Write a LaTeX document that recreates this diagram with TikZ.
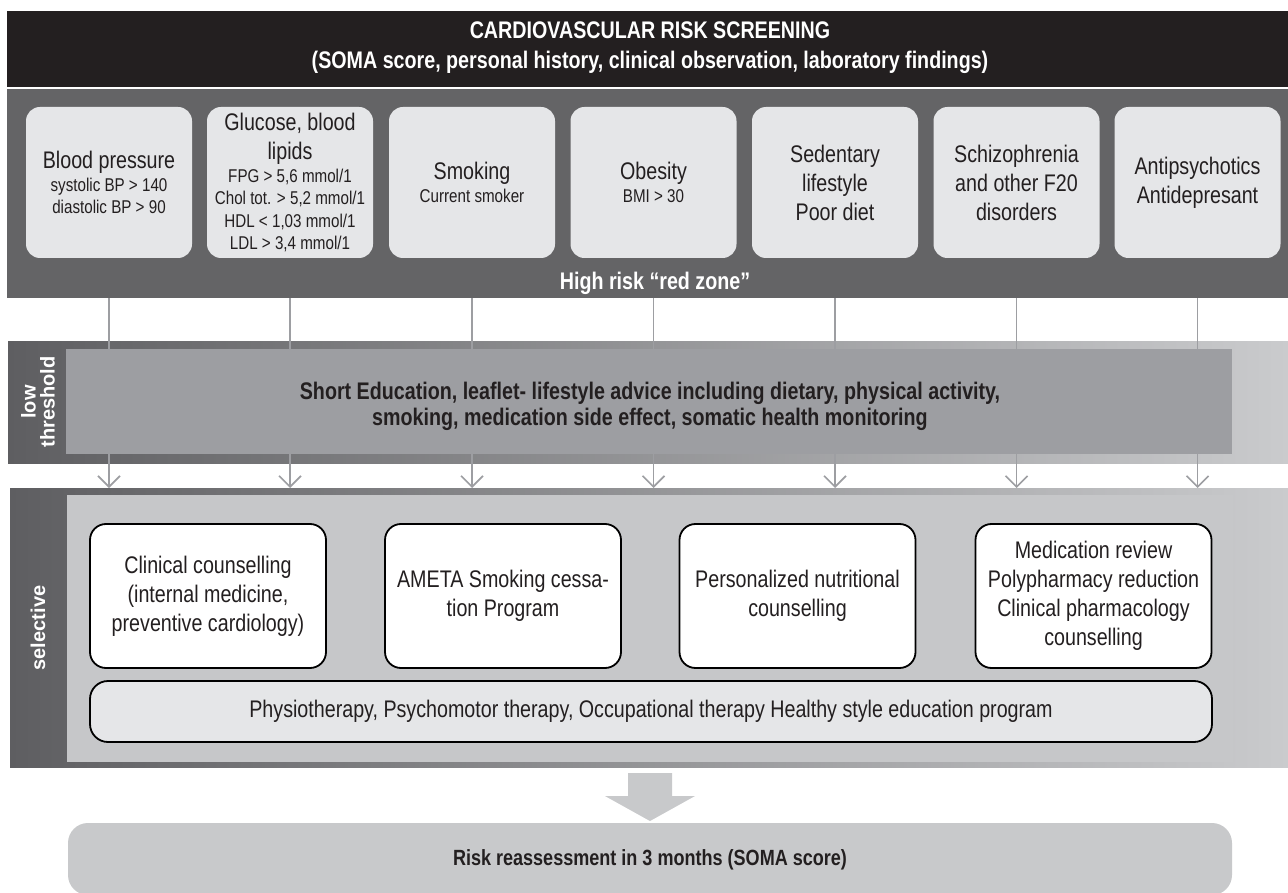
\documentclass[tikz,border=0pt]{standalone}
\usepackage{fontspec}
\setmainfont{Liberation Sans}[FakeStretch=0.82]
\newfontfamily\widefont{Liberation Sans}
\usetikzlibrary{arrows.meta}
\definecolor{hdr}{HTML}{231F20}
\definecolor{riskband}{HTML}{646466}
\definecolor{boxf}{HTML}{E5E6E8}
\definecolor{txt}{HTML}{231F20}
\definecolor{lowin}{HTML}{9D9EA2}
\definecolor{selin}{HTML}{C6C7C9}
\definecolor{shadeL}{HTML}{5E5E61}
\definecolor{shadeR}{HTML}{CACBCD}
\definecolor{arrc}{HTML}{9D9EA2}
\definecolor{bigarr}{HTML}{C8C9CB}
\begin{document}
\begin{tikzpicture}[x=1pt,y=-1pt,
  topbox/.style={fill=boxf, rounded corners=14pt, minimum width=166pt, minimum height=151pt,
    inner sep=0pt, align=center, text=txt, font=\fontsize{18.5}{22.5}\selectfont},
  selbox/.style={fill=white, draw=black, line width=1.8pt, rounded corners=16pt,
    minimum width=236pt, minimum height=144pt, inner sep=0pt, align=center, text=txt,
    font=\fontsize{24}{29}\selectfont},
  plain/.style={inner sep=0pt, outer sep=0pt, anchor=north west},
  sidelabel/.style={rotate=90, text=white, align=center, inner sep=0pt,
    font=\widefont\bfseries\fontsize{20}{19}\selectfont},
  flow/.style={draw=arrc, line width=1.6pt, -{Straight Barb[length=11pt,width=22pt]}}
]
\useasboundingbox (0,0) rectangle (1288,893);
\fill[white] (0,0) rectangle (1288,893);

% header
\node[plain, fill=hdr, minimum width=1281pt, minimum height=76pt] (hdr) at (7,11) {};
\node[text=white, align=center, font=\bfseries\fontsize{24}{30}\selectfont] (title) at (650,48)
  {CARDIOVASCULAR RISK SCREENING\\(SOMA score, personal history, clinical observation, laboratory findings)};

% risk band
\node[plain, fill=riskband, minimum width=1281pt, minimum height=209pt] (risk) at (7,89) {};
\node[topbox] (b1) at (109,182.5) {{\fontsize{24}{29}\selectfont Blood pressure}\\systolic BP > 140\\diastolic BP > 90};
\node[topbox] (b2) at (290,182.5) {{\fontsize{24}{29}\selectfont Glucose, blood}\\[7pt]{\fontsize{24}{29}\selectfont lipids}\\FPG > 5,6 mmol/1\\Chol tot. > 5,2 mmol/1\\HDL < 1,03 mmol/1\\LDL > 3,4 mmol/1};
\node[topbox] (b3) at (472,182.5) {{\fontsize{24}{29}\selectfont Smoking}\\Current smoker};
\node[topbox] (b4) at (653.5,182.5) {{\fontsize{24}{29}\selectfont Obesity}\\BMI > 30};
\node[topbox, font=\fontsize{24}{29}\selectfont] (b5) at (835,182.5) {Sedentary\\lifestyle\\Poor diet};
\node[topbox, font=\fontsize{24}{29}\selectfont] (b6) at (1016.5,182.5) {Schizophrenia\\and other F20\\disorders};
\node[topbox, font=\fontsize{24}{29}\selectfont] (b7) at (1197.5,182.5) {Antipsychotics\\Antidepresant};
\node[text=white, font=\bfseries\fontsize{24}{29}\selectfont] (red) at (655,283) {High risk “red zone”};

% low threshold band (outer)
\node[plain, shading=axis, left color=shadeL, right color=shadeR, minimum width=1280pt, minimum height=121pt] (low) at (8,342) {};
% selective band (outer)
\node[plain, shading=axis, left color=shadeL, right color=shadeR, minimum width=1278pt, minimum height=279pt] (sel) at (10,488) {};
\node[plain, fill=selin, minimum width=1166pt, minimum height=267pt] (selinner) at (67,495) {};

% connectors
\foreach \b in {b1,b2,b3,b4,b5,b6,b7}{
  \draw[flow] (\b |- risk.south) -- (\b |- sel.north);
}

% low threshold inner
\node[plain, fill=lowin, minimum width=1166pt, minimum height=105pt] (lowinner) at (66,349) {};
\node[text=txt, align=center, font=\bfseries\fontsize{24}{26}\selectfont] (lowtext) at (650,406)
  {Short Education, leaflet- lifestyle advice including dietary, physical activity,\\smoking, medication side effect, somatic health monitoring};
\node[sidelabel] (lowlab) at (38,402) {low\\threshold};

% selective content
\node[sidelabel] (sellab) at (38,628) {selective};
\node[selbox] (s1) at (208,596) {Clinical counselling\\(internal medicine,\\preventive cardiology)};
\node[selbox] (s2) at (503,596) {AMETA Smoking cessa-\\tion Program};
\node[selbox] (s3) at (797.5,596) {Personalized nutritional\\counselling};
\node[selbox] (s4) at (1093.5,596) {Medication review\\Polypharmacy reduction\\Clinical pharmacology\\counselling};
\node[fill=boxf, draw=black, line width=1.8pt, rounded corners=18pt, minimum width=1122pt, minimum height=61pt,
  inner sep=0pt, text=txt, font=\fontsize{24}{29}\selectfont] (physio) at (651,711.5)
  {Physiotherapy, Psychomotor therapy, Occupational therapy Healthy style education program};

% big arrow and final box
\fill[bigarr] (628,773) -- (672,773) -- (672,796) -- (695,796) -- (650,821) -- (605,796) -- (628,796) -- cycle;
\node[plain, fill=bigarr, rounded corners=20pt, minimum width=1164pt, minimum height=72pt] (final) at (68,823) {};
\node[text=txt, font=\bfseries\fontsize{22}{26}\selectfont] (finaltext) at (650,860) {Risk reassessment in 3 months (SOMA score)};
\end{tikzpicture}
\end{document}
